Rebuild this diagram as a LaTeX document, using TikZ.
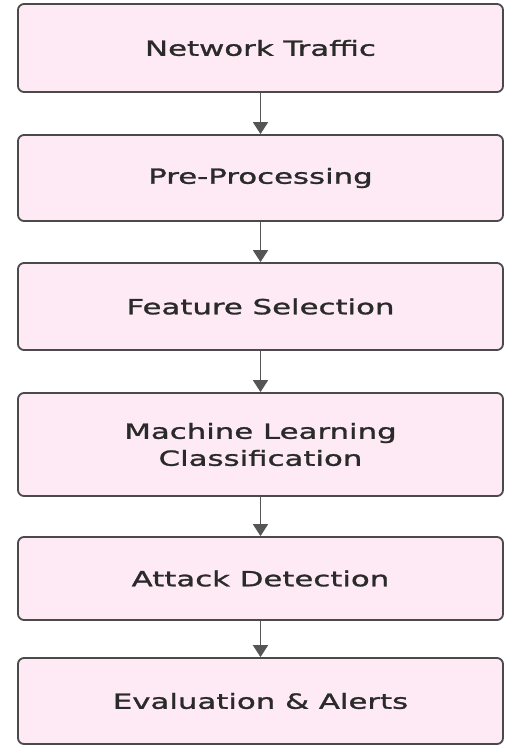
\documentclass[tikz,border=0pt]{standalone}
\usepackage{fontspec}
\setmainfont{DejaVu Sans}[FakeStretch=1.48, FakeBold=1.3]
\usetikzlibrary{arrows.meta}
\definecolor{boxfill}{HTML}{FDEAF5}
\definecolor{boxline}{HTML}{4A4A4A}
\definecolor{txt}{HTML}{2A2A2A}
\definecolor{arr}{HTML}{555555}
\tikzset{
  stage/.style={draw=boxline, fill=boxfill, line width=1.8pt, rounded corners=6pt,
    minimum width=485pt, align=center, text=txt, font=\fontsize{20.8}{27}\selectfont, inner sep=0pt},
  flow/.style={draw=arr, line width=1.8pt, -{Triangle[width=15pt,length=12pt]}}
}
\begin{document}
\begin{tikzpicture}[x=1pt,y=-1pt]
\useasboundingbox (0,0) rectangle (506,745);
\node[stage, minimum height=88pt] (n1) at (260.5,48) {Network Traffic};
\node[stage, minimum height=86pt] (n2) at (260.5,178) {Pre-Processing};
\node[stage, minimum height=87pt] (n3) at (260.5,306.5) {Feature Selection};
\node[stage, minimum height=103pt] (n4) at (260.5,444.5) {Machine Learning\\Classification};
\node[stage, minimum height=83pt] (n5) at (260.5,578.5) {Attack Detection};
\node[stage, minimum height=86pt] (n6) at (260.5,701) {Evaluation \& Alerts};
\draw[flow] (n1) -- (n2);
\draw[flow] (n2) -- (n3);
\draw[flow] (n3) -- (n4);
\draw[flow] (n4) -- (n5);
\draw[flow] (n5) -- (n6);
\end{tikzpicture}
\end{document}
